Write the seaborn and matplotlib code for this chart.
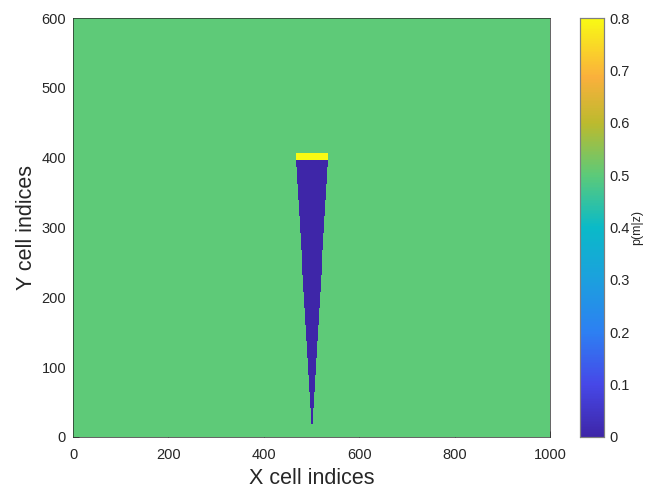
import numpy as np
import pandas as pd
import matplotlib
matplotlib.use('Agg')
import matplotlib.pyplot as plt
import seaborn as sns
import matplotlib.colors as mcolors

# grid and inverse sensor model parameters
grid_w = 1000
grid_h = 600
sensor_x = 501
sensor_y = 0
z_range = 401
half_angle_deg = 4.8
alpha = 9
p_prior = 0.5
p_free = 0.0
p_occ = 0.8

x_ticks = [0, 200, 400, 600, 800, 1000]
y_ticks = [0, 100, 200, 300, 400, 500, 600]
cbar_ticks = [0, 0.1, 0.2, 0.3, 0.4, 0.5, 0.6, 0.7, 0.8]

# parula-like colormap anchors
parula_pos = [0.0, 0.125, 0.25, 0.375, 0.5, 0.625, 0.75, 0.86, 1.0]
parula_rgb = [(62, 38, 168), (70, 72, 232), (45, 128, 242), (28, 160, 222),
              (10, 186, 200), (92, 202, 121), (188, 186, 46), (250, 176, 60),
              (249, 250, 20)]
parula = mcolors.LinearSegmentedColormap.from_list(
    'parula', [(p, tuple(c / 255 for c in rgb)) for p, rgb in zip(parula_pos, parula_rgb)])

# build the occupancy probability grid (range measured along the beam axis)
xc = np.arange(grid_w) + 0.5
yc = np.arange(grid_h) + 0.5
X, Y = np.meshgrid(xc, yc)
rng = Y - sensor_y
phi = np.degrees(np.abs(np.arctan2(X - sensor_x, Y - sensor_y)))
grid = np.full((grid_h, grid_w), p_prior)
in_beam = phi <= half_angle_deg
grid[in_beam & (rng < z_range - alpha / 2)] = p_free
grid[in_beam & (rng >= z_range - alpha / 2) & (rng <= z_range + alpha / 2)] = p_occ
df = pd.DataFrame(grid)

sns.set_style('white')
plt.rcParams['font.family'] = ['Liberation Sans', 'DejaVu Sans']

fig = plt.figure(figsize=(6.48, 4.91), dpi=100)
ax = fig.add_axes([0.1127, 0.11, 0.7361, 0.8533])
cax = fig.add_axes([0.895, 0.11, 0.037, 0.8533])

sns.heatmap(df, ax=ax, cbar_ax=cax, cmap=parula, vmin=0, vmax=0.8,
            xticklabels=False, yticklabels=False, rasterized=True,
            antialiased=True)
ax.invert_yaxis()
ax.set_xlim(0, grid_w)
ax.set_ylim(0, grid_h)

tick_col = '#262626'
ax.set_xticks(x_ticks)
ax.set_xticklabels([str(t) for t in x_ticks])
ax.set_yticks(y_ticks)
ax.set_yticklabels([str(t) for t in y_ticks])
ax.tick_params(direction='in', length=4, width=0.5, colors=tick_col,
               labelsize=10.5, labelcolor=tick_col, top=False, right=False,
               bottom=True, left=True)
ax.tick_params(axis='x', pad=8)
ax.tick_params(axis='y', pad=5)
for s in ax.spines.values():
    s.set_visible(True)
    s.set_color(tick_col)
    s.set_linewidth(0.5)
ax.set_xlabel('X cell indices', fontsize=15.5, color=tick_col, labelpad=4)
ax.set_ylabel('Y cell indices', fontsize=15.5, color=tick_col, labelpad=3)

cax.set_yticks(cbar_ticks)
cax.set_yticklabels([f'{t:g}' for t in cbar_ticks])
cax.tick_params(direction='in', length=3, width=0.5, colors=tick_col,
                labelsize=10.5, labelcolor=tick_col, right=True, left=False,
                pad=4)
for s in cax.spines.values():
    s.set_visible(True)
    s.set_color('#7f7f7f')
    s.set_linewidth(0.8)
fig.text(0.984, 0.536, 'p(m|z)', rotation=90, fontsize=9, color=tick_col,
         ha='center', va='center')

fig.savefig('out.png', dpi=100)
